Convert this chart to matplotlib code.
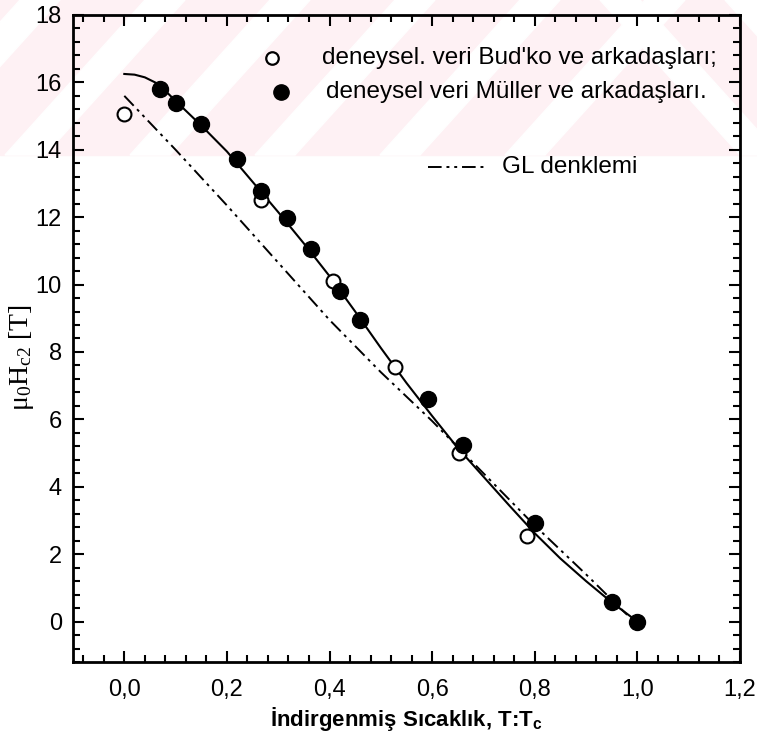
import matplotlib
matplotlib.use("Agg")
import matplotlib.pyplot as plt
from matplotlib.patches import Polygon, Rectangle
from matplotlib.ticker import MultipleLocator

# deneysel veri: Bud'ko ve arkadaşları (açık daireler)
budko_t = [0.0, 0.267, 0.406, 0.527, 0.652, 0.784]
budko_h = [15.05, 12.5, 10.1, 7.55, 5.0, 2.55]

# deneysel veri: Müller ve arkadaşları (dolu daireler)
muller_t = [0.07, 0.10, 0.15, 0.219, 0.267, 0.318, 0.363, 0.42, 0.46, 0.591, 0.66, 0.80, 0.95, 1.0]
muller_h = [15.8, 15.39, 14.76, 13.72, 12.77, 11.99, 11.05, 9.8, 8.95, 6.6, 5.25, 2.92, 0.57, 0.0]

# kuram eğrisi (düz çizgi)
fit_t = [0.0, 0.02, 0.04, 0.06, 0.08, 0.10, 0.15, 0.20, 0.25, 0.30, 0.35, 0.40, 0.45, 0.50,
         0.55, 0.60, 0.65, 0.70, 0.75, 0.80, 0.85, 0.90, 0.95, 1.0]
fit_h = [16.25, 16.23, 16.15, 16.0, 15.75, 15.45, 14.72, 13.95, 13.05, 12.15, 11.22, 10.25,
         9.2, 8.12, 7.08, 6.1, 5.15, 4.3, 3.45, 2.62, 1.87, 1.2, 0.57, 0.0]

# GL denklemi (kesikli-noktalı çizgi)
gl_t = [0.0, 0.1, 0.2, 0.3, 0.4, 0.5, 0.6, 0.7, 0.8, 0.9, 0.98]
gl_h = [15.6, 14.0, 12.35, 10.65, 8.95, 7.4, 5.95, 4.4, 2.85, 1.4, 0.2]

xticks = [0.0, 0.2, 0.4, 0.6, 0.8, 1.0, 1.2]
xlabels = ["0,0", "0,2", "0,4", "0,6", "0,8", "1,0", "1,2"]
yticks = [0, 2, 4, 6, 8, 10, 12, 14, 16, 18]

plt.rcParams['font.family'] = ['Liberation Sans', 'DejaVu Sans']
plt.rcParams['mathtext.fontset'] = 'custom'
plt.rcParams['mathtext.rm'] = 'Liberation Serif'
plt.rcParams['mathtext.it'] = 'Liberation Serif:italic'
plt.rcParams['mathtext.bf'] = 'Liberation Sans:bold'

fig = plt.figure(figsize=(7.57, 7.33), dpi=100)
W, H = 757, 733

# soluk pembe filigran şeritleri (üst kısım)
pink = (0.996, 0.945, 0.955)
fig.patches.append(Rectangle((0, 1 - 155 / H), 1, 155 / H, transform=fig.transFigure,
                             color=pink, zorder=-10))
for x0 in range(-120, 560, 125):
    pts = [(x0, 155), (x0 + 40, 155), (x0 + 40 + 140, 0), (x0 + 140, 0)]
    pts = [(px / W, 1 - py / H) for px, py in pts]
    fig.patches.append(Polygon(pts, closed=True, transform=fig.transFigure,
                               color="white", zorder=-9))
for x0 in [600, 725]:
    pts = [(x0, 0), (x0 + 40, 0), (x0 + 40 + 140, 155), (x0 + 140, 155)]
    pts = [(px / W, 1 - py / H) for px, py in pts]
    fig.patches.append(Polygon(pts, closed=True, transform=fig.transFigure,
                               color="white", zorder=-9))

ax = fig.add_axes([73 / W, 1 - 662 / H, (740 - 73) / W, (662 - 15) / H])
ax.set_facecolor("none")

gl_dash = [7, 2.5, 1.5, 2.5, 1.5, 2.5]
ax.plot(fit_t, fit_h, color="black", lw=1.5)
ax.plot(gl_t, gl_h, color="black", lw=1.4, dashes=gl_dash)
ax.plot(budko_t, budko_h, "o", ms=10, mfc="white", mec="black", mew=1.5, ls="none")
ax.plot(muller_t, muller_h, "o", ms=11.5, mfc="black", mec="black", ls="none")

ax.set_xlim(-0.1, 1.2)
ax.set_ylim(-1.2, 18)
ax.set_xticks(xticks)
ax.set_xticklabels(xlabels)
ax.set_yticks(yticks)
ax.xaxis.set_minor_locator(MultipleLocator(0.04))
ax.yaxis.set_minor_locator(MultipleLocator(0.4))
ax.tick_params(which="both", direction="in", top=True, right=True, width=1.5,
               labelsize=17)
ax.tick_params(axis="x", pad=12)
ax.tick_params(axis="y", pad=8)
ax.tick_params(which="major", length=8)
ax.tick_params(which="minor", length=5)
for s in ax.spines.values():
    s.set_linewidth(2)

ax.set_xlabel("İndirgenmiş Sıcaklık, T:T$_\\mathbf{c}$", fontsize=16, fontweight="bold",
              labelpad=3)
ax.set_ylabel("$\\mathrm{\\mu_0 H_{c2}}$ [T]", fontsize=20, family="Liberation Serif")
ax.yaxis.set_label_coords(-0.055, 0.47)

# açıklama (legend) elle yerleştirildi
ax.plot([0.287], [16.73], "o", ms=9, mfc="white", mec="black", mew=1.6, clip_on=False)
ax.text(0.386, 16.73, "deneysel. veri Bud'ko ve arkadaşları;", fontsize=17.5, va="center")
ax.plot([0.306], [15.71], "o", ms=11, mfc="black", mec="black", clip_on=False)
ax.text(0.394, 15.71, "deneysel veri Müller ve arkadaşları.", fontsize=17.5, va="center")
ax.plot([0.591, 0.702], [13.48, 13.48], color="black", lw=1.4, dashes=gl_dash)
ax.text(0.736, 13.48, "GL denklemi", fontsize=17.5, va="center")

fig.savefig("out.png", dpi=100)
